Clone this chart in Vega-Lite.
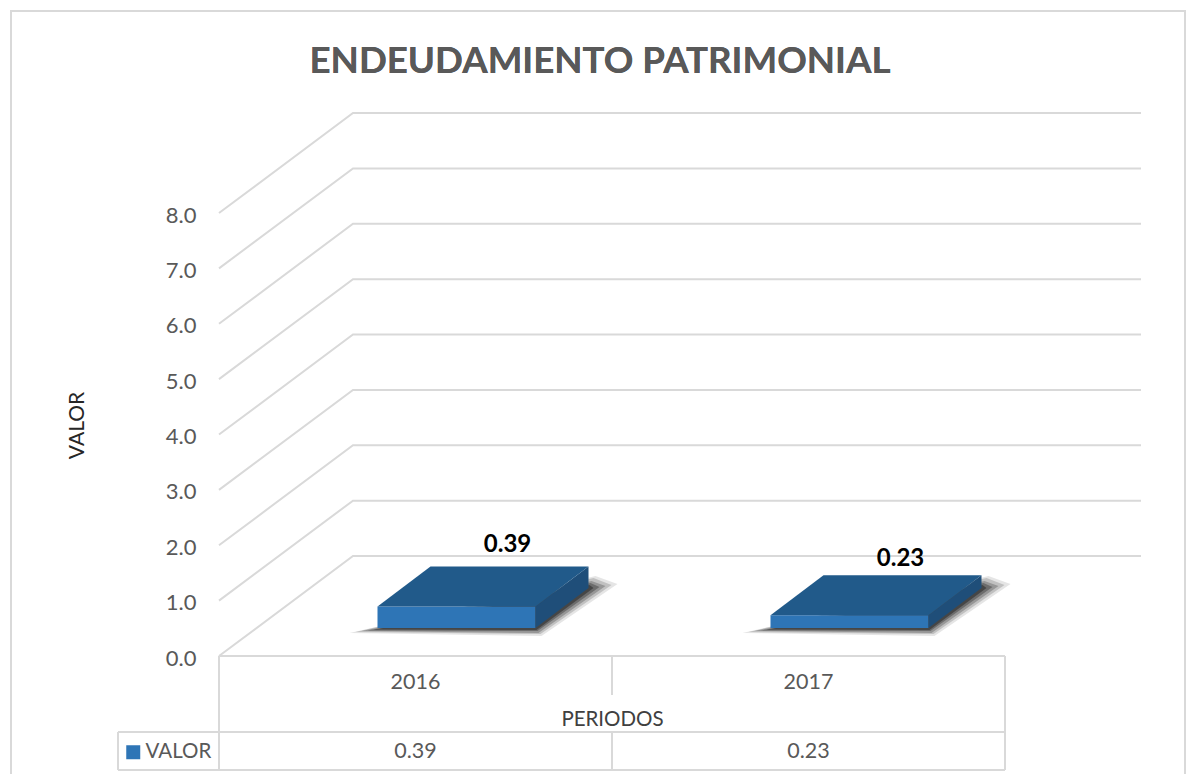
{
"$schema":"https://vega.github.io/schema/vega-lite/v6.json",
"width":786,"height":443,"autosize":"none",
"padding":{"left":219,"top":213,"right":181,"bottom":118},
"background":"white",
"config":{"view":{"stroke":null},"font":"Lato"},
"resolve":{"axis":{"x":"independent","y":"independent"}},
"datasets":{
"barras":[{"periodo":"2016","valor":0.39},{"periodo":"2017","valor":0.23}],
"escala":[{"v":0},{"v":1},{"v":2},{"v":3},{"v":4},{"v":5},{"v":6},{"v":7},{"v":8}]
},
"data":{"name":"barras"},
"layer":[
{"mark":{"type":"text","yOffset":96,"font":"Lato","fontSize":21.5,"color":"#595959"},
 "encoding":{
  "x":{"field":"periodo","type":"nominal","sort":null,"scale":{"domain":["2016","2017"],"paddingInner":0,"paddingOuter":0},
   "axis":{"title":"PERIODOS","orient":"bottom","labelAngle":0,"domain":false,"ticks":false,"grid":false,"labelFont":"Lato","labelFontSize":21.5,"labelColor":"#595959","labelPadding":15,"titleFont":"Lato","titleFontSize":20.5,"titleFontWeight":"normal","titleColor":"#404040","titlePadding":17}},
  "y":{"datum":0,"type":"quantitative","scale":{"domain":[0,8],"nice":false,"zero":false},
   "axis":{"title":"VALOR","orient":"left","values":[0,1,2,3,4,5,6,7,8],"format":".1f","domain":false,"ticks":false,"grid":false,"labelFont":"Lato","labelFontSize":22,"labelColor":"#595959","labelPadding":23,"labelOffset":2,"titleFont":"Lato","titleFontSize":21,"titleFontWeight":"normal","titleColor":"#262626","titlePadding":78,"titleY":212}},
  "text":{"field":"valor","type":"quantitative","format":".2f"}}},
{"mark":{"type":"text","text":"ENDEUDAMIENTO PATRIMONIAL","font":"Lato","fontSize":36.7,"fontWeight":"bold","color":"#595959","xOffset":-12,"yOffset":-151},
 "encoding":{"x":{"datum":"2017","bandPosition":0,"axis":null},"y":{"datum":8,"type":"quantitative","axis":null}}},
{"data":{"name":"escala"},"mark":{"type":"point","shape":"M0,0L134,-100L922,-100","size":4,"filled":false,"stroke":"#d9d9d9","strokeWidth":2,"opacity":1},
 "encoding":{"x":{"datum":"2016","bandPosition":0,"axis":null},"y":{"field":"v","type":"quantitative","axis":null}}},
{"mark":{"type":"point","shape":"M0,0L786,0M0,0L0,114M786,0L786,114M393,0L393,39M393,76L393,114M-101,76L786,76M-101,114L786,114M-101,76L-101,114","size":4,"filled":false,"stroke":"#d9d9d9","strokeWidth":2,"opacity":1},
 "encoding":{"x":{"datum":"2016","bandPosition":0,"axis":null},"y":{"datum":0,"type":"quantitative","axis":null}}},
{"mark":{"type":"point","shape":"M-208,120L-208,-645L966,-645L966,120","size":4,"filled":false,"stroke":"#d9d9d9","strokeWidth":2,"opacity":1},
 "encoding":{"x":{"datum":"2016","bandPosition":0,"axis":null},"y":{"datum":0,"type":"quantitative","axis":null}}},
{"mark":{"type":"point","shape":"M-66,5L126,8L202,-44L180,-52L0,-10Z","size":4,"filled":true,"fill":"#000000","stroke":null,"opacity":0.1,"yOffset":-28},
 "encoding":{"x":{"field":"periodo","type":"nominal","axis":null},"y":{"datum":0,"type":"quantitative","axis":null}}},
{"mark":{"type":"point","shape":"M-60,4L125,6L196,-43L178,-50L0,-10Z","size":4,"filled":true,"fill":"#000000","stroke":null,"opacity":0.16,"yOffset":-28},
 "encoding":{"x":{"field":"periodo","type":"nominal","axis":null},"y":{"datum":0,"type":"quantitative","axis":null}}},
{"mark":{"type":"point","shape":"M-54,3L123,5L190,-42L176,-47L0,-8Z","size":4,"filled":true,"fill":"#000000","stroke":null,"opacity":0.22,"yOffset":-28},
 "encoding":{"x":{"field":"periodo","type":"nominal","axis":null},"y":{"datum":0,"type":"quantitative","axis":null}}},
{"mark":{"type":"point","shape":"M-48,2.5L122,3L184,-41L175,-45L0,-6Z","size":4,"filled":true,"fill":"#000000","stroke":null,"opacity":0.28,"yOffset":-28},
 "encoding":{"x":{"field":"periodo","type":"nominal","axis":null},"y":{"datum":0,"type":"quantitative","axis":null}}},
{"mark":{"type":"point","shape":"M-42,1.5L121,2L178,-40L174,-43L0,-5Z","size":4,"filled":true,"fill":"#000000","stroke":null,"opacity":0.35,"yOffset":-28},
 "encoding":{"x":{"field":"periodo","type":"nominal","axis":null},"y":{"datum":0,"type":"quantitative","axis":null}}},
{"mark":{"type":"bar","size":158,"xOffset":41,"x2Offset":41,"yOffset":-28,"y2Offset":-28},
 "encoding":{"x":{"field":"periodo","type":"nominal","axis":null},"y":{"field":"valor","type":"quantitative","axis":null},
  "color":{"datum":"VALOR","scale":{"domain":["VALOR"],"range":["#2e75b6"]},
   "legend":{"title":null,"orient":"none","legendX":-96,"legendY":529,"symbolType":"square","symbolSize":196,"symbolStrokeWidth":0,"labelFont":"Lato","labelFontSize":20.5,"labelColor":"#595959","labelOffset":2,"padding":0}}}},
{"mark":{"type":"point","size":4,"filled":true,"stroke":null,"fill":"#1f4e79","opacity":1,"yOffset":-28},
 "encoding":{"x":{"field":"periodo","type":"nominal","axis":null},"y":{"field":"valor","type":"quantitative","axis":null},
  "shape":{"field":"periodo","type":"nominal","legend":null,"scale":{"domain":["2016","2017"],"range":["M120,0L173,-40L173,-18.4L120,21.6Z","M120,0L173,-40L173,-27.3L120,12.7Z"]}}}},
{"mark":{"type":"point","shape":"M-38,0L120,0L173,-40L15,-40Z","size":4,"filled":true,"stroke":null,"fill":"#215a8a","opacity":1,"yOffset":-28},
 "encoding":{"x":{"field":"periodo","type":"nominal","axis":null},"y":{"field":"valor","type":"quantitative","axis":null}}},
{"transform":[{"filter":"datum.periodo=='2016'"}],"mark":{"type":"text","font":"Lato","fontSize":24,"fontWeight":"bold","color":"#000000","xOffset":92,"yOffset":-89},
 "encoding":{"x":{"field":"periodo","type":"nominal","axis":null},"y":{"field":"valor","type":"quantitative","axis":null},"text":{"field":"valor","type":"quantitative","format":".2f"}}},
{"transform":[{"filter":"datum.periodo=='2017'"}],"mark":{"type":"text","font":"Lato","fontSize":24,"fontWeight":"bold","color":"#000000","xOffset":92,"yOffset":-84},
 "encoding":{"x":{"field":"periodo","type":"nominal","axis":null},"y":{"field":"valor","type":"quantitative","axis":null},"text":{"field":"valor","type":"quantitative","format":".2f"}}}
]
}
